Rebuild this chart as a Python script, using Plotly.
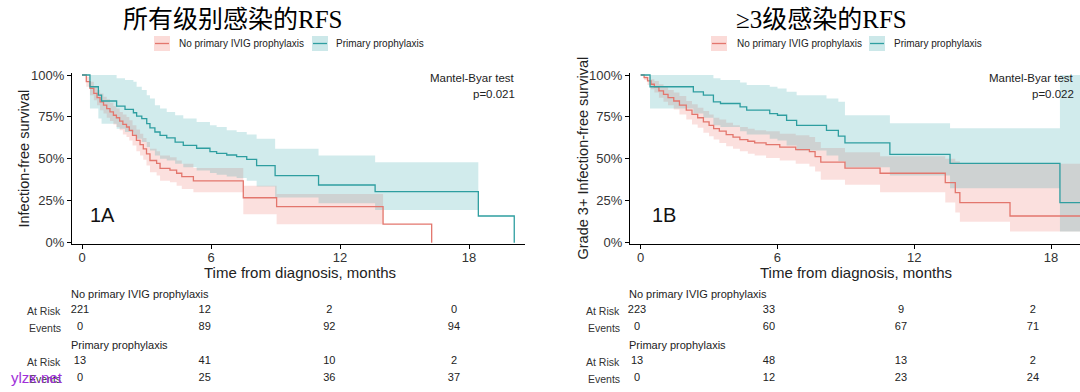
import plotly.graph_objects as go

W, H = 1080, 392

# ---------------- data ----------------
# Panel 1A (all-grade infections) - No primary IVIG prophylaxis
a_no_t = [0, 0.2, 0.37, 0.55, 0.7, 0.84, 1.0, 1.15, 1.3, 1.46, 1.6, 1.75, 1.9, 2.07, 2.2, 2.35, 2.53, 2.7, 2.85, 3.0,
          3.16, 3.47, 3.63, 4.09, 4.4, 4.64, 5.18, 7.5, 9.05, 14.0, 16.26]
a_no_s = [1.0, 0.96, 0.92, 0.89, 0.865, 0.84, 0.82, 0.80, 0.78, 0.76, 0.745, 0.725, 0.705, 0.69, 0.67, 0.64, 0.61, 0.585, 0.56, 0.53,
          0.49, 0.473, 0.443, 0.433, 0.414, 0.394, 0.368, 0.268, 0.215, 0.11, 0.0]
a_no_up = [1.0, 0.99, 0.96, 0.935, 0.91, 0.89, 0.87, 0.855, 0.835, 0.815, 0.80, 0.78, 0.765, 0.75, 0.73, 0.70, 0.675, 0.65, 0.625, 0.60,
           0.56, 0.545, 0.52, 0.51, 0.49, 0.47, 0.445, 0.34, 0.29, None, None]
a_no_lo = [1.0, 0.93, 0.88, 0.85, 0.82, 0.79, 0.77, 0.745, 0.725, 0.705, 0.69, 0.67, 0.645, 0.63, 0.61, 0.58, 0.545, 0.52, 0.495, 0.46,
           0.42, 0.40, 0.37, 0.36, 0.34, 0.32, 0.30, 0.17, 0.11, None, None]

# Panel 1A - Primary prophylaxis
a_pp_t = [0, 0.37, 0.76, 0.91, 1.61, 2.0, 2.39, 2.54, 2.78, 3.01, 3.16, 3.39, 3.63, 3.94, 4.33, 4.71, 5.33, 5.95, 6.26, 6.73,
          7.19, 7.66, 8.12, 8.98, 11.0, 13.63, 18.43, 20.1]
a_pp_s = [1.0, 0.93, 0.88, 0.845, 0.815, 0.795, 0.775, 0.755, 0.74, 0.71, 0.685, 0.66, 0.64, 0.625, 0.60, 0.58, 0.563, 0.543, 0.533, 0.523,
          0.513, 0.497, 0.46, 0.40, 0.344, 0.304, 0.159, 0.0]
a_pp_up = [1.0, 1.0, 1.0, 1.0, 0.98, 0.97, 0.96, 0.93, 0.91, 0.88, 0.86, 0.82, 0.80, 0.78, 0.76, 0.74, 0.72, 0.70, 0.69, 0.67,
           0.66, 0.645, 0.62, 0.56, 0.52, 0.48, None, None]
a_pp_lo = [1.0, 0.80, 0.74, 0.71, 0.68, 0.66, 0.64, 0.62, 0.60, 0.57, 0.55, 0.52, 0.50, 0.49, 0.47, 0.45, 0.43, 0.415, 0.405, 0.395,
           0.385, 0.37, 0.335, 0.27, 0.235, 0.195, None, None]

# Panel 1B (grade 3+ infections) - No primary IVIG prophylaxis
b_no_t = [0, 0.15, 0.3, 0.45, 0.6, 0.8, 1.0, 1.2, 1.45, 1.7, 2.0, 2.25, 2.5, 2.75, 3.0, 3.2, 3.45, 3.75, 4.05, 4.35,
          4.7, 5.0, 5.5, 6.1, 6.8, 7.4, 7.65, 7.9, 8.96, 10.5, 13.36, 13.8, 14.0, 16.2, 20.0]
b_no_s = [1.0, 0.985, 0.965, 0.945, 0.93, 0.905, 0.885, 0.865, 0.845, 0.82, 0.79, 0.765, 0.745, 0.72, 0.70, 0.68, 0.665, 0.645, 0.63, 0.615,
          0.605, 0.595, 0.585, 0.57, 0.555, 0.543, 0.513, 0.48, 0.445, 0.414, 0.358, 0.298, 0.239, 0.159, 0.159]
b_no_up = [1.0, 1.0, 0.99, 0.975, 0.965, 0.945, 0.93, 0.91, 0.895, 0.875, 0.845, 0.825, 0.805, 0.785, 0.765, 0.745, 0.735, 0.715, 0.70, 0.69,
           0.68, 0.67, 0.665, 0.65, 0.64, 0.63, 0.60, 0.565, 0.54, 0.515, 0.50, 0.485, 0.47, 0.47, None]
b_no_lo = [1.0, 0.97, 0.94, 0.915, 0.895, 0.865, 0.84, 0.82, 0.795, 0.765, 0.735, 0.705, 0.685, 0.655, 0.635, 0.615, 0.595, 0.575, 0.56, 0.545,
           0.53, 0.52, 0.505, 0.49, 0.47, 0.455, 0.425, 0.375, 0.345, 0.30, 0.24, 0.18, 0.125, 0.066, None]

# Panel 1B - Primary prophylaxis
b_pp_t = [0, 0.41, 2.31, 2.75, 3.19, 3.5, 4.36, 4.65, 5.66, 6.0, 6.4, 6.84, 8.15, 8.67, 8.96, 10.93, 13.57, 18.39, 20.0]
b_pp_s = [1.0, 0.93, 0.90, 0.88, 0.84, 0.83, 0.81, 0.79, 0.77, 0.76, 0.73, 0.70, 0.67, 0.635, 0.595, 0.527, 0.473, 0.239, 0.239]
b_pp_up = [1.0, 1.0, 1.0, 1.0, 0.98, 0.97, 0.955, 0.94, 0.93, 0.92, 0.90, 0.88, 0.86, 0.84, 0.76, 0.712, 0.682, 1.0, None]
b_pp_lo = [1.0, 0.80, 0.77, 0.745, 0.70, 0.69, 0.665, 0.645, 0.62, 0.61, 0.58, 0.55, 0.52, 0.485, 0.45, 0.40, 0.324, 0.066, None]

# Risk tables
risk_months = [0, 6, 12, 18]
a_no_risk = [221, 12, 2, 0]
a_no_events = [0, 89, 92, 94]
a_pp_risk = [13, 41, 10, 2]
a_pp_events = [0, 25, 36, 37]
b_no_risk = [223, 33, 9, 2]
b_no_events = [0, 60, 67, 71]
b_pp_risk = [13, 48, 13, 2]
b_pp_events = [0, 12, 23, 24]

x_tick_vals = [0, 6, 12, 18]
y_tick_vals = [0, 0.25, 0.5, 0.75, 1.0]
y_tick_text = ["0%", "25%", "50%", "75%", "100%"]

group_names = ["No primary IVIG prophylaxis", "Primary prophylaxis"]
panel_titles = ["所有级别感染的RFS", "≥3级感染的RFS"]
panel_labels = ["1A", "1B"]
y_titles = ["Infection-free survival", "Grade 3+ Infection-free survival"]
x_title = "Time from diagnosis, months"
p_values = ["p=0.021", "p=0.022"]

# ---------------- styles ----------------
RED = "#E3766D"
TEAL = "#2E9EA0"
RED_FILL = "rgba(240,125,115,0.24)"
TEAL_FILL = "rgba(40,160,165,0.21)"
SANS = "Liberation Sans, Arial, sans-serif"
SERIF = "Liberation Serif, Noto Sans CJK SC, serif"
TXT = "#222222"


def px(xp):
    return xp / W


def py(yp):
    return 1 - yp / H


def band_xy(t, up, lo):
    xu, yu, xl, yl = [], [], [], []
    for i in range(len(t) - 1):
        if up[i] is None or lo[i] is None:
            continue
        xu += [t[i], t[i + 1]]
        yu += [up[i], up[i]]
        xl += [t[i], t[i + 1]]
        yl += [lo[i], lo[i]]
    return xu + xl[::-1], yu + yl[::-1]


fig = go.Figure()

panels = [
    ("x", "y", (a_no_t, a_no_s, a_no_up, a_no_lo), (a_pp_t, a_pp_s, a_pp_up, a_pp_lo)),
    ("x2", "y2", (b_no_t, b_no_s, b_no_up, b_no_lo), (b_pp_t, b_pp_s, b_pp_up, b_pp_lo)),
]
for xa, ya, red, teal in panels:
    for (t, s, up, lo), fc in ((red, RED_FILL), (teal, TEAL_FILL)):
        bx, by = band_xy(t, up, lo)
        fig.add_trace(go.Scatter(x=bx, y=by, xaxis=xa, yaxis=ya, mode="lines", fill="toself",
                                 fillcolor=fc, line=dict(width=0), hoverinfo="skip", showlegend=False))
    for (t, s, up, lo), lc in ((red, RED), (teal, TEAL)):
        fig.add_trace(go.Scatter(x=t, y=s, xaxis=xa, yaxis=ya, mode="lines", line=dict(color=lc, width=1.3, shape="hv"),
                                 hoverinfo="skip", showlegend=False))

# risk table numbers (rows: 0 header, 1 at risk, 2 events, 3 header, 4 at risk, 5 events)
tables = [
    ("x3", "y3", [a_no_risk, a_no_events, a_pp_risk, a_pp_events]),
    ("x4", "y4", [b_no_risk, b_no_events, b_pp_risk, b_pp_events]),
]
rows = [1, 2, 4, 5]
for xa, ya, vals in tables:
    for r, v in zip(rows, vals):
        fig.add_trace(go.Scatter(x=risk_months, y=[r] * len(risk_months), xaxis=xa, yaxis=ya, mode="text",
                                 text=[str(n) for n in v], textposition="middle center",
                                 textfont=dict(family=SANS, size=11, color=TXT), hoverinfo="skip", showlegend=False))

axis_common = dict(showline=True, linecolor="black", linewidth=1.2, ticks="outside", ticklen=4, tickwidth=1.1,
                   tickcolor="black", showgrid=False, zeroline=False, automargin=False,
                   tickfont=dict(family=SANS, size=13, color="#333333"))
hidden = dict(visible=False, automargin=False, showgrid=False, zeroline=False)
ydom = [py(244), py(73)]
tdom = [py(387), py(285)]
fig.update_layout(
    template="none",
    width=W, height=H, margin=dict(l=0, r=0, t=0, b=0, pad=0, autoexpand=False),
    paper_bgcolor="white", plot_bgcolor="white", showlegend=False,
    xaxis=dict(domain=[px(72), px(525)], range=[-0.465, 20.6], anchor="y", tickvals=x_tick_vals,
               ticklabelstandoff=-3, **axis_common),
    yaxis=dict(domain=ydom, range=[-0.008, 1.012], anchor="x", tickvals=y_tick_vals, ticktext=y_tick_text, **axis_common),
    xaxis2=dict(domain=[px(630), 1.0], range=[-0.469, 19.27], anchor="y2", tickvals=x_tick_vals,
                ticklabelstandoff=-3, **axis_common),
    yaxis2=dict(domain=ydom, range=[-0.008, 1.012], anchor="x2", tickvals=y_tick_vals, ticktext=y_tick_text, **axis_common),
    xaxis3=dict(domain=[0, 0.5], range=[-3.85, 22.14], anchor="y3", **hidden),
    yaxis3=dict(domain=tdom, range=[5.5, -0.5], anchor="x3", **hidden),
    xaxis4=dict(domain=[0.5, 1.0], range=[-4.41, 20.14], anchor="y4", **hidden),
    yaxis4=dict(domain=tdom, range=[5.5, -0.5], anchor="x4", **hidden),
)

ann = []


def add_text(text, x, y, size, xanchor="center", color=TXT, family=SANS, angle=0, yref="paper", yval=None):
    ann.append(dict(text=text, x=px(x), y=py(y) if yval is None else yval, xref="paper", yref=yref,
                    xanchor=xanchor, yanchor="middle", showarrow=False, textangle=angle,
                    font=dict(family=family, size=size, color=color)))


shapes = []


def legend_key(x0, fill, color):
    shapes.append(dict(type="rect", xref="paper", yref="paper", x0=px(x0), x1=px(x0 + 16), y0=py(51), y1=py(36),
                       fillcolor=fill, line=dict(width=0)))
    shapes.append(dict(type="line", xref="paper", yref="paper", x0=px(x0 + 1), x1=px(x0 + 15), y0=py(43.5), y1=py(43.5),
                       line=dict(color=color, width=1.3)))


# panel specific positions
cfg = [
    dict(title_x=232, leg=(154, 177, 312, 334), mb_x=517, lab_x=88, ytitle_x=23, xtitle_x=300,
         head_x=69, rowlab_x=63, yref="y3"),
    dict(title_x=821, leg=(711, 735, 869, 892), mb_x=1076, lab_x=650, ytitle_x=582, xtitle_x=856,
         head_x=627, rowlab_x=622, yref="y4"),
]
for i, c in enumerate(cfg):
    add_text(panel_titles[i], c["title_x"], 20, 25, family=SERIF, color="black")
    k1, t1, k2, t2 = c["leg"]
    legend_key(k1, "rgba(240,125,115,0.28)", RED)
    legend_key(k2, "rgba(40,160,165,0.24)", TEAL)
    add_text(group_names[0], t1, 43.5, 10, xanchor="left")
    add_text(group_names[1], t2, 43.5, 10, xanchor="left")
    add_text("Mantel-Byar test", c["mb_x"], 78, 11.5, xanchor="right")
    add_text(p_values[i], c["mb_x"], 94, 11.5, xanchor="right")
    add_text(panel_labels[i], c["lab_x"], 215, 20, xanchor="left", color="#111111")
    add_text(y_titles[i], c["ytitle_x"], 158.5, 14.5, angle=-90)
    add_text(x_title, c["xtitle_x"], 272, 15)
    add_text(group_names[0], c["head_x"], None, 11, xanchor="left", yref=c["yref"], yval=0)
    add_text(group_names[1], c["head_x"], None, 11, xanchor="left", yref=c["yref"], yval=3)
    for r, lab in zip(rows, ["At Risk", "Events", "At Risk", "Events"]):
        add_text(lab, c["rowlab_x"], None, 10.5, xanchor="right", color="#333333", yref=c["yref"], yval=r)

# watermark (overlaps the row label, as in the source image)
add_text("ylzx.net", 9, 377, 15, xanchor="left", color="#A030D8")

fig.update_layout(annotations=ann, shapes=shapes)
fig.write_html("out.html", config={"displayModeBar": False},
               post_script="document.body.style.margin='0px';document.body.style.overflow='hidden';")
